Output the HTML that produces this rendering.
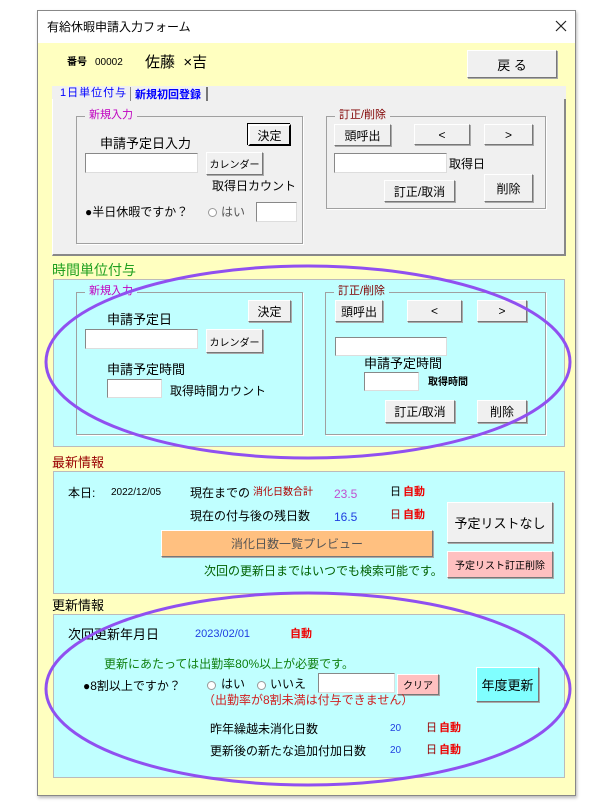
<!DOCTYPE html>
<html><head><meta charset="utf-8"><style>
*{box-sizing:border-box;margin:0;padding:0}
body{width:616px;height:806px;background:#fff;position:relative;overflow:hidden;font-family:"Liberation Sans","Noto Sans CJK JP",sans-serif;font-size:12px;color:#000}
div,span{position:absolute}
.t{white-space:nowrap;line-height:1}
.btn{background:#f0f0f0;border:1px solid #fff;border-right-color:#777;border-bottom-color:#777;box-shadow:1px 1px 0 #aaa;display:flex;align-items:center;justify-content:center;white-space:nowrap;font-size:12px}
.in{background:#fff;border:1px solid #888;border-right-color:#ddd;border-bottom-color:#ddd}
.grp{border:1px solid #a0a0a0;box-shadow:1px 1px 0 #fff}
.gl{background:inherit;padding:0 4px;font-size:11px;top:-7px;left:8px;line-height:1}
.rad{width:9px;height:9px;border:1px solid #999;border-radius:50%;background:#fff}
</style></head><body>
<!-- window -->
<div style="left:37px;top:10px;width:539px;height:786px;border:1px solid #888;background:#ffffc0;box-shadow:1px 2px 3px #bbb"></div>
<div style="left:38px;top:11px;width:537px;height:32px;background:#fff"></div>
<span class="t" style="left:47px;top:21px;font-size:12px">有給休暇申請入力フォーム</span>
<svg style="position:absolute;left:555px;top:20px" width="12" height="12"><path d="M1 1L11 11M11 1L1 11" stroke="#222" stroke-width="1.2"/></svg>

<span class="t" style="left:67px;top:58px;font-size:10px;font-weight:bold">番号</span>
<span class="t" style="left:95px;top:58px;font-size:10px">00002</span>
<span class="t" style="left:145px;top:55px;font-size:15px">佐藤&nbsp;&nbsp;×吉</span>
<div class="btn" style="left:467px;top:50px;width:90px;height:28px;font-size:13px">戻 る</div>

<!-- tab area -->
<div style="left:52px;top:86px;width:514px;height:14px;background:#f0f0f0"></div>
<div style="left:52px;top:99px;width:514px;height:157px;background:#f0f0f0;border-right:2px solid #888;border-bottom:2px solid #888;border-left:1px solid #fff"></div>
<span class="t" style="left:60px;top:88px;color:#00f;font-size:11px;letter-spacing:1px">1日単位付与</span>
<div style="left:130px;top:87px;width:78px;height:14px;border-left:1px solid #888;border-right:2px solid #777"></div>
<span class="t" style="left:135px;top:90px;color:#00f;font-size:11px;font-weight:bold">新規初回登録</span>

<div class="grp" style="left:76px;top:116px;width:227px;height:128px;background:#f0f0f0"><span class="gl t" style="color:#c000c0">新規入力</span></div>
<div class="btn" style="left:248px;top:124px;width:43px;height:22px;border:2px solid #000;border-top-color:#fff;border-left-color:#fff;box-shadow:-1px -1px 0 #000">決定</div>
<span class="t" style="left:100px;top:137px;font-size:13px">申請予定日入力</span>
<div class="in" style="left:85px;top:153px;width:113px;height:20px"></div>
<div class="btn" style="left:206px;top:152px;width:57px;height:23px;font-size:10px">カレンダー</div>
<span class="t" style="left:212px;top:180px">取得日カウント</span>
<span class="t" style="left:85px;top:206px">●半日休暇ですか？</span>
<div class="rad" style="left:208px;top:208px"></div>
<span class="t" style="left:221px;top:206px;color:#555">はい</span>
<div class="in" style="left:256px;top:202px;width:41px;height:20px"></div>

<div class="grp" style="left:326px;top:116px;width:220px;height:93px;background:#f0f0f0"><span class="gl t" style="color:#800000">訂正/削除</span></div>
<div class="btn" style="left:334px;top:124px;width:57px;height:22px">頭呼出</div>
<div class="btn" style="left:414px;top:124px;width:56px;height:21px">&lt;</div>
<div class="btn" style="left:484px;top:124px;width:49px;height:21px">&gt;</div>
<div class="in" style="left:334px;top:153px;width:113px;height:20px"></div>
<span class="t" style="left:449px;top:158px">取得日</span>
<div class="btn" style="left:384px;top:180px;width:71px;height:22px">訂正/取消</div>
<div class="btn" style="left:484px;top:174px;width:49px;height:28px">削除</div>

<!-- 時間単位付与 -->
<span class="t" style="left:52px;top:263px;font-size:14px;color:#20a020">時間単位付与</span>
<div style="left:53px;top:279px;width:512px;height:168px;background:#c0ffff;border:1px solid #bbb"></div>
<div class="grp" style="left:76px;top:292px;width:227px;height:143px;background:#c0ffff"><span class="gl t" style="color:#c000c0">新規入力</span></div>
<div class="btn" style="left:248px;top:300px;width:43px;height:22px">決定</div>
<span class="t" style="left:107px;top:313px;font-size:13px">申請予定日</span>
<div class="in" style="left:85px;top:329px;width:113px;height:20px"></div>
<div class="btn" style="left:206px;top:329px;width:57px;height:24px;font-size:10px">カレンダー</div>
<span class="t" style="left:107px;top:363px;font-size:13px">申請予定時間</span>
<div class="in" style="left:107px;top:379px;width:55px;height:19px"></div>
<span class="t" style="left:170px;top:385px">取得時間カウント</span>

<div class="grp" style="left:325px;top:292px;width:221px;height:143px;background:#c0ffff"><span class="gl t" style="color:#800000">訂正/削除</span></div>
<div class="btn" style="left:335px;top:300px;width:48px;height:22px">頭呼出</div>
<div class="btn" style="left:407px;top:300px;width:55px;height:22px">&lt;</div>
<div class="btn" style="left:477px;top:300px;width:50px;height:22px">&gt;</div>
<div class="in" style="left:335px;top:337px;width:112px;height:19px"></div>
<span class="t" style="left:364px;top:357px;font-size:13px">申請予定時間</span>
<div class="in" style="left:364px;top:372px;width:55px;height:19px"></div>
<span class="t" style="left:428px;top:378px;font-size:10px;font-weight:bold">取得時間</span>
<div class="btn" style="left:385px;top:400px;width:70px;height:23px">訂正/取消</div>
<div class="btn" style="left:477px;top:400px;width:50px;height:23px">削除</div>

<!-- 最新情報 -->
<span class="t" style="left:52px;top:456px;font-size:13px;color:#900">最新情報</span>
<div style="left:53px;top:471px;width:512px;height:123px;background:#c0ffff;border:1px solid #bbb"></div>
<span class="t" style="left:68px;top:487px">本日:</span>
<span class="t" style="left:111px;top:488px;font-size:10px">2022/12/05</span>
<span class="t" style="left:190px;top:487px">現在までの</span>
<span class="t" style="left:253px;top:488px;font-size:10px;color:#b00000">消化日数合計</span>
<span class="t" style="left:334px;top:488px;color:#c050d0">23.5</span>
<span class="t" style="left:390px;top:487px;font-size:11px">日</span>
<span class="t" style="left:403px;top:487px;font-size:11px;color:#e00;font-weight:bold">自動</span>
<span class="t" style="left:190px;top:510px">現在の付与後の残日数</span>
<span class="t" style="left:334px;top:511px;color:#2040e0">16.5</span>
<span class="t" style="left:390px;top:510px;font-size:11px;color:#900">日</span>
<span class="t" style="left:403px;top:510px;font-size:11px;color:#e00;font-weight:bold">自動</span>
<div class="btn" style="left:161px;top:530px;width:272px;height:27px;background:#ffc080;color:#555;font-size:12px">消化日数一覧プレビュー</div>
<span class="t" style="left:204px;top:565px;color:#006000">次回の更新日まではいつでも検索可能です。</span>
<div class="btn" style="left:447px;top:502px;width:106px;height:41px;font-size:13px">予定リストなし</div>
<div class="btn" style="left:447px;top:551px;width:106px;height:27px;background:#ffc0c0;font-size:10px">予定リスト訂正削除</div>

<!-- 更新情報 -->
<span class="t" style="left:52px;top:599px;font-size:13px">更新情報</span>
<div style="left:53px;top:614px;width:512px;height:164px;background:#c0ffff;border:1px solid #bbb"></div>
<span class="t" style="left:68px;top:628px;font-size:13px">次回更新年月日</span>
<span class="t" style="left:195px;top:629px;color:#2040e0;font-size:11px">2023/02/01</span>
<span class="t" style="left:290px;top:629px;color:#e00;font-size:11px;font-weight:bold">自動</span>
<span class="t" style="left:104px;top:658px;color:#108010">更新にあたっては出勤率80%以上が必要です。</span>
<span class="t" style="left:83px;top:680px">●8割以上ですか？</span>
<div class="rad" style="left:207px;top:681px"></div>
<span class="t" style="left:221px;top:678px">はい</span>
<div class="rad" style="left:257px;top:681px"></div>
<span class="t" style="left:270px;top:678px">いいえ</span>
<div class="in" style="left:318px;top:673px;width:77px;height:20px"></div>
<div class="btn" style="left:397px;top:674px;width:42px;height:21px;background:#ffc0c0;font-size:10px">クリア</div>
<span class="t" style="left:203px;top:694px;color:#d02020">（出勤率が8割未満は付与できません）</span>
<div class="btn" style="left:476px;top:667px;width:63px;height:35px;background:#80ffff;font-size:13px">年度更新</div>
<span class="t" style="left:210px;top:723px">昨年繰越未消化日数</span>
<span class="t" style="left:390px;top:724px;color:#2040e0;font-size:10px">20</span>
<span class="t" style="left:426px;top:723px;font-size:11px;color:#900">日</span>
<span class="t" style="left:439px;top:723px;font-size:11px;color:#e00;font-weight:bold">自動</span>
<span class="t" style="left:210px;top:745px">更新後の新たな追加付加日数</span>
<span class="t" style="left:390px;top:746px;color:#2040e0;font-size:10px">20</span>
<span class="t" style="left:426px;top:745px;font-size:11px;color:#900">日</span>
<span class="t" style="left:439px;top:745px;font-size:11px;color:#e00;font-weight:bold">自動</span>

<svg style="position:absolute;left:0;top:0" width="616" height="806">
<ellipse cx="308" cy="362" rx="262" ry="96" fill="none" stroke="#9050f0" stroke-width="3"/>
<ellipse cx="308" cy="689" rx="262" ry="96" fill="none" stroke="#9050f0" stroke-width="3"/>
</svg>
</body></html>
